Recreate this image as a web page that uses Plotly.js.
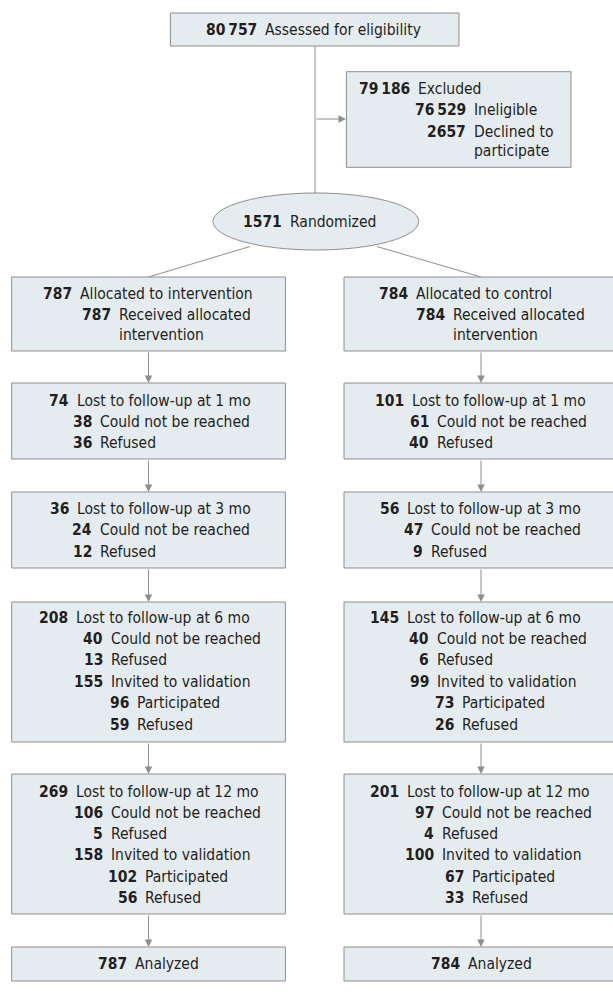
<!DOCTYPE html>
<html>
<head>
<meta charset="utf-8">
<script src="https://cdn.plot.ly/plotly-3.0.1.min.js"></script>
<style>html,body{margin:0;padding:0;background:#fff;}#chart{width:613px;height:997px;}</style>
</head>
<body>
<div id="chart"></div>
<script>
// ---- Data (counts and labels) ----
const assessedNums = ["80\u2009757"];
const assessedLabels = ["Assessed for eligibility"];
const excludedNums = ["79\u2009186", "76\u2009529", "2657", ""];
const excludedLabels = ["Excluded", "Ineligible", "Declined to", "participate"];
const randomizedNums = ["1571"];
const randomizedLabels = ["Randomized"];

const allocIntNums = ["787", "787", ""];
const allocIntLabels = ["Allocated to intervention", "Received allocated", "intervention"];
const allocCtlNums = ["784", "784", ""];
const allocCtlLabels = ["Allocated to control", "Received allocated", "intervention"];

const fu1IntNums = ["74", "38", "36"];
const fu1CtlNums = ["101", "61", "40"];
const fu1Labels = ["Lost to follow-up at 1 mo", "Could not be reached", "Refused"];

const fu3IntNums = ["36", "24", "12"];
const fu3CtlNums = ["56", "47", "9"];
const fu3Labels = ["Lost to follow-up at 3 mo", "Could not be reached", "Refused"];

const fu6IntNums = ["208", "40", "13", "155", "96", "59"];
const fu6CtlNums = ["145", "40", "6", "99", "73", "26"];
const fu6Labels = ["Lost to follow-up at 6 mo", "Could not be reached", "Refused", "Invited to validation", "Participated", "Refused"];

const fu12IntNums = ["269", "106", "5", "158", "102", "56"];
const fu12CtlNums = ["201", "97", "4", "100", "67", "33"];
const fu12Labels = ["Lost to follow-up at 12 mo", "Could not be reached", "Refused", "Invited to validation", "Participated", "Refused"];

const analyzedIntNums = ["787"];
const analyzedCtlNums = ["784"];
const analyzedLabels = ["Analyzed"];

// ---- Styling / layout geometry ----
const FILL = "#e5ecf0", EDGE = "#8e8e8e", TXT = "#231f20";
const FONT = "Liberation Sans Narrow, Arial Narrow, DejaVu Sans Condensed, sans-serif";
const FS = 15.5;
const GAP = 6;

const shapes = [];
const annotations = [];

function rect(x0, x1, y0, y1) {
  shapes.push({type: "rect", xref: "x", yref: "y", x0, x1, y0, y1,
    fillcolor: FILL, line: {color: EDGE, width: 1}, layer: "below"});
}
function line(x0, y0, x1, y1) {
  shapes.push({type: "line", xref: "x", yref: "y", x0, y0, x1, y1,
    line: {color: EDGE, width: 1}});
}
function arrow(xTail, yTail, xTip, yTip) {
  annotations.push({x: xTip, y: yTip, ax: xTail, ay: yTail, xref: "x", yref: "y",
    axref: "x", ayref: "y", text: "", showarrow: true, arrowhead: 2, arrowsize: 1.5,
    arrowwidth: 1, arrowcolor: EDGE, standoff: 0, startstandoff: 0});
}
function textLines(nums, labels, rxs, ys) {
  for (let i = 0; i < labels.length; i++) {
    if (nums[i] !== "") {
      annotations.push({x: rxs[i], y: ys[i], xref: "x", yref: "y", xanchor: "right", yanchor: "middle",
        text: "<b>" + nums[i] + "</b>", showarrow: false, borderpad: 0,
        font: {family: FONT, size: FS, color: TXT}});
    }
    annotations.push({x: rxs[i] + GAP, y: ys[i], xref: "x", yref: "y", xanchor: "left", yanchor: "middle",
      text: labels[i], showarrow: false, borderpad: 0,
      font: {family: FONT, size: FS, color: TXT}});
  }
}

// Columns
const L = {x0: 11.7, x1: 285.4, cx: 148.5};
const R = {x0: 344, x1: 620, cx: 481};

// Top part
rect(170.4, 459, 13, 46);
textLines(assessedNums, assessedLabels, [258], [30]);
line(315, 46, 315, 193);
arrow(315, 119, 346, 119);
rect(346.4, 571, 71.7, 167.3);
textLines(excludedNums, excludedLabels, [411, 467, 467, 467], [89, 110, 132, 151]);

// Randomized ellipse
shapes.push({type: "circle", xref: "x", yref: "y", x0: 213, x1: 418.7, y0: 193, y1: 250,
  fillcolor: FILL, line: {color: EDGE, width: 1}, layer: "below"});
textLines(randomizedNums, randomizedLabels, [282.6], [222]);
line(250, 246.5, L.cx, 277);
line(377, 246.5, R.cx, 277);

// Stages
const stages = [
  {y0: 277, y1: 351, ys: [294, 315, 335],
   int: [allocIntNums, allocIntLabels, [73, 112, 112]],
   ctl: [allocCtlNums, allocCtlLabels, [408.5, 446.4, 446.4]]},
  {y0: 383, y1: 459, ys: [401, 422, 443],
   int: [fu1IntNums, fu1Labels, [70, 92.6, 92.6]],
   ctl: [fu1CtlNums, fu1Labels, [405.4, 429.5, 429.5]]},
  {y0: 492, y1: 568, ys: [509, 530, 552],
   int: [fu3IntNums, fu3Labels, [70, 92.6, 92.6]],
   ctl: [fu3CtlNums, fu3Labels, [399.5, 424, 424]]},
  {y0: 602, y1: 742, ys: [618, 639, 660, 682, 703, 725],
   int: [fu6IntNums, fu6Labels, [69.2, 103.6, 103.6, 103.6, 129.5, 129.5]],
   ctl: [fu6CtlNums, fu6Labels, [400, 429.5, 429.5, 429.5, 455, 455]]},
  {y0: 774, y1: 914, ys: [792, 813, 834, 855, 877, 898],
   int: [fu12IntNums, fu12Labels, [69.2, 103.6, 103.6, 103.6, 138, 138]],
   ctl: [fu12CtlNums, fu12Labels, [400, 435, 435, 435, 465, 465]]},
  {y0: 947, y1: 981, ys: [964],
   int: [analyzedIntNums, analyzedLabels, [128]],
   ctl: [analyzedCtlNums, analyzedLabels, [460.5]]}
];

stages.forEach((s, i) => {
  rect(L.x0, L.x1, s.y0, s.y1);
  rect(R.x0, R.x1, s.y0, s.y1);
  textLines(s.int[0], s.int[1], s.int[2], s.ys);
  textLines(s.ctl[0], s.ctl[1], s.ctl[2], s.ys);
  if (i > 0) {
    const prev = stages[i - 1];
    arrow(L.cx, prev.y1, L.cx, s.y0);
    arrow(R.cx, prev.y1, R.cx, s.y0);
  }
});

const layout = {
  width: 613, height: 997,
  margin: {l: 0, r: 0, t: 0, b: 0, pad: 0},
  paper_bgcolor: "#ffffff", plot_bgcolor: "#ffffff",
  showlegend: false,
  xaxis: {range: [0, 613], visible: false, fixedrange: true},
  yaxis: {range: [997, 0], visible: false, fixedrange: true},
  shapes, annotations
};

Plotly.newPlot("chart", [{x: [], y: [], type: "scatter", mode: "markers", hoverinfo: "skip"}], layout,
  {staticPlot: true, displayModeBar: false});
</script>
</body>
</html>
